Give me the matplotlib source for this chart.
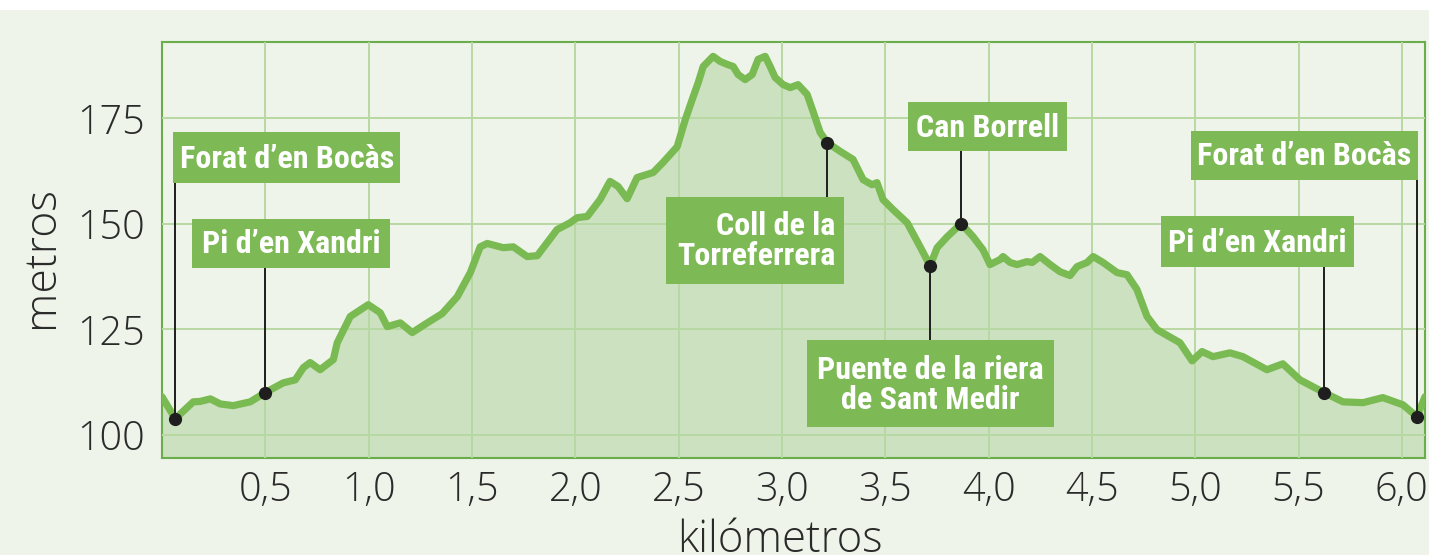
import matplotlib
matplotlib.use("Agg")
import matplotlib.pyplot as plt
from matplotlib.patches import Rectangle
from matplotlib import font_manager
from matplotlib.font_manager import FontProperties

# ---- data ----
dist_km = [0.000, 0.064, 0.151, 0.185, 0.234, 0.282, 0.345, 0.427, 0.500, 0.587,
           0.645, 0.684, 0.717, 0.765, 0.829, 0.848, 0.911, 0.998, 1.056, 1.090,
           1.153, 1.211, 1.284, 1.356, 1.429, 1.492, 1.540, 1.574, 1.651, 1.700,
           1.767, 1.816, 1.864, 1.912, 1.975, 2.009, 2.058, 2.120, 2.168, 2.207,
           2.251, 2.299, 2.377, 2.425, 2.493, 2.532, 2.566, 2.595, 2.619, 2.667,
           2.701, 2.735, 2.764, 2.788, 2.822, 2.856, 2.885, 2.919, 2.943, 2.967,
           3.006, 3.040, 3.078, 3.122, 3.151, 3.185, 3.219, 3.282, 3.344, 3.393,
           3.436, 3.460, 3.489, 3.538, 3.606, 3.669, 3.717, 3.751, 3.800, 3.867,
           3.925, 3.973, 4.007, 4.056, 4.070, 4.104, 4.138, 4.186, 4.211, 4.249,
           4.298, 4.346, 4.394, 4.428, 4.477, 4.506, 4.554, 4.622, 4.670, 4.718,
           4.767, 4.815, 4.926, 4.985, 5.033, 5.086, 5.168, 5.231, 5.347, 5.424,
           5.507, 5.623, 5.715, 5.812, 5.908, 6.005, 6.073, 6.112]
elev_m = [109.0, 103.8, 107.8, 107.9, 108.5, 107.3, 106.9, 107.8, 110.0, 112.3,
          113.0, 115.9, 117.1, 115.4, 117.8, 121.8, 128.0, 130.8, 128.9, 125.6,
          126.5, 124.2, 126.5, 128.7, 132.7, 138.4, 144.5, 145.3, 144.3, 144.5,
          142.2, 142.4, 145.5, 148.6, 150.2, 151.4, 151.7, 155.7, 160.0, 158.8,
          155.9, 160.9, 162.1, 164.5, 168.2, 174.6, 179.4, 183.4, 187.2, 189.6,
          188.4, 187.7, 187.2, 185.3, 184.1, 185.3, 188.9, 189.6, 187.2, 184.6,
          182.9, 182.2, 182.9, 180.6, 176.5, 171.6, 169.2, 167.1, 165.2, 160.4,
          159.2, 159.7, 155.7, 153.3, 150.2, 144.5, 140.0, 144.3, 146.9, 150.0,
          146.9, 143.8, 140.3, 141.5, 142.2, 140.8, 140.3, 141.0, 140.8, 142.2,
          140.3, 138.6, 137.7, 139.8, 140.8, 142.2, 140.8, 138.4, 137.9, 134.4,
          128.0, 124.9, 121.8, 117.5, 119.7, 118.5, 119.4, 118.5, 115.4, 116.8,
          113.0, 110.0, 107.8, 107.6, 108.8, 107.1, 104.3, 109.0]

x_ticks = [0.5, 1.0, 1.5, 2.0, 2.5, 3.0, 3.5, 4.0, 4.5, 5.0, 5.5, 6.0]
x_ticklabels = ["0,5", "1,0", "1,5", "2,0", "2,5", "3,0", "3,5", "4,0", "4,5", "5,0", "5,5", "6,0"]
y_ticks = [100, 125, 150, 175]
y_ticklabels = ["100", "125", "150", "175"]

poi_names = ["Forat d’en Bocàs", "Pi d’en Xandri", "Coll de la\nTorreferrera",
             "Puente de la riera\nde Sant Medir", "Can Borrell",
             "Forat d’en Bocàs", "Pi d’en Xandri"]
poi_km = [0.064, 0.500, 3.219, 3.717, 3.867, 6.073, 5.623]
poi_m = [103.8, 110.0, 169.2, 140.0, 150.0, 104.3, 110.0]

# ---- layout (label boxes in data coords: x0, x1, y0, y1, text alignment) ----
box_layout = [
    (0.055, 1.153, 159.7, 171.6, "center"),
    (0.147, 1.104, 139.6, 151.2, "center"),
    (2.440, 3.301, 135.8, 156.4, "right"),
    (3.122, 4.317, 101.9, 122.5, "center"),
    (3.610, 4.380, 167.1, 178.7, "center"),
    (4.980, 6.078, 160.4, 172.0, "center"),
    (4.835, 5.768, 139.8, 151.7, "center"),
]

# ---- styles ----
BG = "#eef4ea"
LINE = "#7aba52"
FILL = "#cce1bf"
GRID = "#b8d8a3"
SPINE = "#6aae4b"
BOX = "#7db954"
TXT = "#2a2a2a"

avail = {f.name for f in font_manager.fontManager.ttflist}
tick_font = "Open Sans" if "Open Sans" in avail else "DejaVu Sans"


def find_condensed_bold():
    cands = []
    for f in font_manager.fontManager.ttflist:
        fn = f.fname.lower()
        nm = f.name.lower()
        narrow = ("narrow" in nm or "condensed" in nm or "narrow" in fn or "condensed" in fn
                  or f.stretch in ("condensed", "semi-condensed", "extra-condensed"))
        if not narrow:
            continue
        w = f.weight if isinstance(f.weight, int) else 400
        bold = w >= 600 or "bold" in fn
        if not bold or "italic" in fn or "oblique" in fn or f.style != "normal":
            continue
        score = 0
        if "liberation" in fn:
            score = 3
        elif "roboto" in fn:
            score = 4
        elif "opensans" in fn.replace(" ", "") or "open" in fn:
            score = 2
        elif "dejavu" in fn:
            score = 1
        if "semi" in fn or "extra" in fn or "black" in fn:
            score -= 0.5
        cands.append((score, f.fname))
    if cands:
        cands.sort(reverse=True)
        return FontProperties(fname=cands[0][1])
    return FontProperties(family="DejaVu Sans", weight="bold", stretch="condensed")


box_fp = find_condensed_bold()

fig = plt.figure(figsize=(14.29, 5.55), dpi=100)
fig.patch.set_facecolor("white")
fig.patches.append(Rectangle((0, 0), 1, (555 - 10) / 555, transform=fig.transFigure,
                             facecolor=BG, edgecolor="none", zorder=-10))

ax = fig.add_axes([162 / 1429, (555 - 458) / 555, (1425 - 162) / 1429, (458 - 42) / 555])
ax.set_facecolor(BG)
ax.set_xlim(0, 6.112)
ax.set_ylim(94.5, 193.0)

ax.fill_between(dist_km, elev_m, 94.5, color=FILL, lw=0, zorder=1)
ax.plot(dist_km, elev_m, color=LINE, lw=5.2, solid_joinstyle="round",
        solid_capstyle="round", zorder=3)

ax.set_xticks(x_ticks)
ax.set_xticklabels(x_ticklabels)
ax.set_yticks(y_ticks)
ax.set_yticklabels(y_ticklabels)
ax.grid(True, color=GRID, lw=1.4)
ax.set_axisbelow(False)
for gl in ax.get_xgridlines() + ax.get_ygridlines():
    gl.set_zorder(2)
ax.tick_params(length=0, labelsize=28.5, colors=TXT)
ax.tick_params(axis="y", pad=12)
ax.tick_params(axis="x", pad=9)
for lab in ax.get_xticklabels() + ax.get_yticklabels():
    lab.set_fontfamily(tick_font)
    lab.set_fontweight("light")
for s in ax.spines.values():
    s.set_color(SPINE)
    s.set_linewidth(1.5)

# labels
for name, px, py, (x0, x1, y0, y1, ha) in zip(poi_names, poi_km, poi_m, box_layout):
    yb = y0 if py < y0 else y1
    ax.plot([px, px], [py, yb], color="#1e1e1e", lw=1.4, zorder=4, clip_on=False)
    ax.add_patch(Rectangle((x0, y0), x1 - x0, y1 - y0, facecolor=BOX, edgecolor="none",
                           zorder=5, clip_on=False))
    tx = x1 - 0.04 if ha == "right" else (x0 + x1) / 2
    fp = box_fp.copy()
    fp.set_size(23)
    ax.text(tx, (y0 + y1) / 2 - 0.3, name, ha=ha, va="center", multialignment=ha,
            color="white", fontproperties=fp, linespacing=1.0, zorder=6, clip_on=False)
    ax.plot(px, py, "o", color="#1e1e1e", ms=8.5, zorder=7, clip_on=False)

fig.text(780 / 1429, 3 / 555, "kilómetros", ha="center", va="baseline", fontsize=31.5,
         fontfamily=tick_font, fontweight="light", color=TXT)
fig.text(42 / 1429, (555 - 257) / 555, "metros", ha="center", va="center", rotation=90,
         fontsize=32, fontfamily=tick_font, fontweight="light", color=TXT)

fig.savefig("out.png", dpi=100, facecolor=fig.get_facecolor())
